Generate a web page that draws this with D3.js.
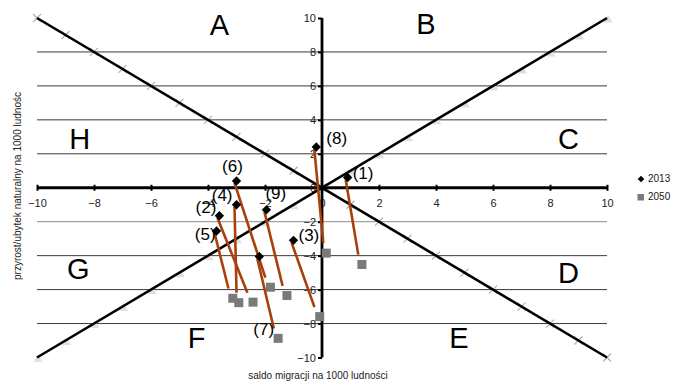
<!DOCTYPE html>
<html><head><meta charset="utf-8">
<script src="https://cdn.jsdelivr.net/npm/d3@7"></script>
<style>body{margin:0;background:#fff}svg{display:block;font-family:"Liberation Sans",Arial,sans-serif}</style>
</head><body><svg id="c" width="673" height="381"></svg>
<script>
// ---- data ----
const regions = ["1","2","3","4","5","6","7","8","9"];
const x2013 = [0.9, -3.6, -1.0, -3.0, -3.7, -3.0, -2.2, -0.2, -1.95];
const y2013 = [0.6, -1.65, -3.1, -1.0, -2.55, 0.4, -4.05, 2.4, -1.3];
const x2050 = [1.4, -2.42, -0.08, -2.92, -3.13, -1.81, -1.54, 0.15, -1.23];
const y2050 = [-4.52, -6.74, -7.59, -6.77, -6.51, -5.86, -8.87, -3.85, -6.35];
const xTicks = [-10,-8,-6,-4,-2,0,2,4,6,8,10];
const yTicks = [-10,-8,-6,-4,-2,0,2,4,6,8,10];
const gridY = [-8,-6,-4,-2,2,4,6,8];
const diagX = [-10,-9,-8,-7,-6,-5,-4,-3,-2,-1,0,1,2,3,4,5,6,7,8,9,10];
const zoneNames = ["A","B","C","D","E","F","G","H"];
const zoneX = [-3.6, 3.65, 8.65, 8.65, 4.8, -4.4, -8.55, -8.5];
const zoneY = [9.45, 9.5, 2.75, -5.15, -9.0, -9.0, -4.95, 2.75];
const seriesNames = ["2013","2050"];
const xTitle = "saldo migracji na 1000 ludności";
const yTitle = "przyrost/ubytek naturalny na 1000 ludnośc";

// ---- layout ----
const svg = d3.select("#c");
const x = d3.scaleLinear().domain([-10,10]).range([37,607]);
const y = d3.scaleLinear().domain([-10,10]).range([357.5,18]);
// label placement: [which point (0=2013,1=2050), anchor, dx, dy]
const labelPos = [[0,"start",5,-3],[0,"end",-3,-7.5],[0,"start",5,-4],[0,"end",-4,-8],[0,"end",-1,4],
                  [0,"middle",-4,-13],[1,"end",-4,-8],[0,"start",10,-7],[0,"start",-1,-15]];

// gridlines
svg.append("g").selectAll("line").data(gridY).join("line")
  .attr("x1",x(-10)).attr("x2",x(10)).attr("y1",d=>y(d)).attr("y2",d=>y(d))
  .attr("stroke",d=>d===-2?"#8a8a8a":"#3a3a3a").attr("stroke-width",1);

// diagonal markers (under the lines)
svg.append("g").selectAll("path").data(diagX).join("path")
  .attr("d",d=>{const cx=x(d),cy=y(-d);return `M${cx-4},${cy-4}L${cx+4},${cy+4}M${cx-4},${cy+4}L${cx+4},${cy-4}`;})
  .attr("stroke","#b0b0b0").attr("stroke-width",1.2);
svg.append("g").selectAll("path").data(diagX).join("path")
  .attr("d",d=>{const cx=x(d)+1,cy=y(d)+1;return `M${cx},${cy-4}L${cx+4.5},${cy+3.5}L${cx-4.5},${cy+3.5}Z`;})
  .attr("fill","#e0e0e0");
// diagonals
svg.append("line").attr("x1",x(-10)).attr("y1",y(10)).attr("x2",x(10)).attr("y2",y(-10))
  .attr("stroke","#000").attr("stroke-width",2.6);
svg.append("line").attr("x1",x(-10)).attr("y1",y(-10)).attr("x2",x(10)).attr("y2",y(10))
  .attr("stroke","#000").attr("stroke-width",2.6);

// axes
const xAxis = svg.append("g").attr("transform",`translate(0,${y(0)})`)
  .call(d3.axisBottom(x).tickValues(xTicks).tickSize(3).tickFormat(d3.format("d")));
xAxis.select(".domain").attr("stroke-width",2.8).attr("d",`M${x(-10)},0H${x(10)}`);
xAxis.selectAll(".tick line").attr("y1",-3).attr("y2",3).attr("stroke-width",2);
xAxis.selectAll(".tick text").attr("y",15).attr("dy","0.35em");
const yAxis = svg.append("g").attr("transform",`translate(${x(0)},0)`)
  .call(d3.axisLeft(y).tickValues(yTicks).tickSize(4).tickPadding(2).tickFormat(d3.format("d")));
yAxis.select(".domain").attr("stroke-width",2.8).attr("d",`M0,${y(10)}V${y(-10)}`);
yAxis.selectAll(".tick line").attr("stroke-width",2);
svg.selectAll(".tick text").attr("font-size",11).attr("fill","#222").attr("font-family","Liberation Sans, Arial, sans-serif");

// zone letters
svg.append("g").selectAll("text").data(zoneNames).join("text")
  .attr("x",(d,i)=>x(zoneX[i])).attr("y",(d,i)=>y(zoneY[i]))
  .attr("text-anchor","middle").attr("dominant-baseline","middle")
  .attr("font-size",29).attr("fill","#000").text(d=>d);

// connecting lines
const idx = d3.range(regions.length);
svg.append("g").selectAll("line").data(idx).join("line")
  .each(function(i){
    const x1=x(x2013[i]),y1=y(y2013[i]),x2=x(x2050[i]),y2=y(y2050[i]);
    const L=Math.hypot(x2-x1,y2-y1), t=(L-10)/L;
    d3.select(this).attr("x1",x1-2).attr("y1",y1+2).attr("x2",x1+(x2-x1)*t-2).attr("y2",y1+(y2-y1)*t);
  })
  .attr("stroke","#a8400c").attr("stroke-width",2.6);

// markers
svg.append("g").selectAll("path").data(idx).join("path")
  .attr("d",d3.symbol().type(d3.symbolSquare).size(44))
  .attr("transform",i=>`translate(${x(x2013[i])},${y(y2013[i])}) rotate(45)`)
  .attr("fill","#000");
svg.append("g").selectAll("rect").data(idx).join("rect")
  .attr("x",i=>x(x2050[i])-4.5).attr("y",i=>y(y2050[i])-4.5).attr("width",9).attr("height",9)
  .attr("fill","#7a7a7a");

// point labels
svg.append("g").selectAll("text").data(idx).join("text")
  .attr("x",i=>{const p=labelPos[i];return (p[0]?x(x2050[i]):x(x2013[i]))+p[2];})
  .attr("y",i=>{const p=labelPos[i];return (p[0]?y(y2050[i]):y(y2013[i]))+p[3];})
  .attr("text-anchor",i=>labelPos[i][1]).attr("dominant-baseline","middle")
  .attr("font-size",17).attr("fill","#000").text(i=>`(${regions[i]})`);

// axis titles
svg.append("text").attr("x",318).attr("y",379).attr("text-anchor","middle")
  .attr("font-size",10).attr("fill","#222").text(xTitle);
svg.append("text").attr("transform",`translate(21,186) rotate(-90)`).attr("text-anchor","middle")
  .attr("font-size",10).attr("fill","#222").text(yTitle);

// legend
const lg = svg.append("g");
lg.append("path").attr("d",d3.symbol().type(d3.symbolSquare).size(22)).attr("transform","translate(641,179) rotate(45)").attr("fill","#000");
lg.append("rect").attr("x",637.5).attr("y",194).attr("width",6.5).attr("height",6.5).attr("fill","#7a7a7a");
lg.selectAll("text").data(seriesNames).join("text")
  .attr("x",648).attr("y",(d,i)=>179+i*18).attr("dominant-baseline","middle")
  .attr("font-size",10).attr("fill","#222").text(d=>d);
</script></body></html>
